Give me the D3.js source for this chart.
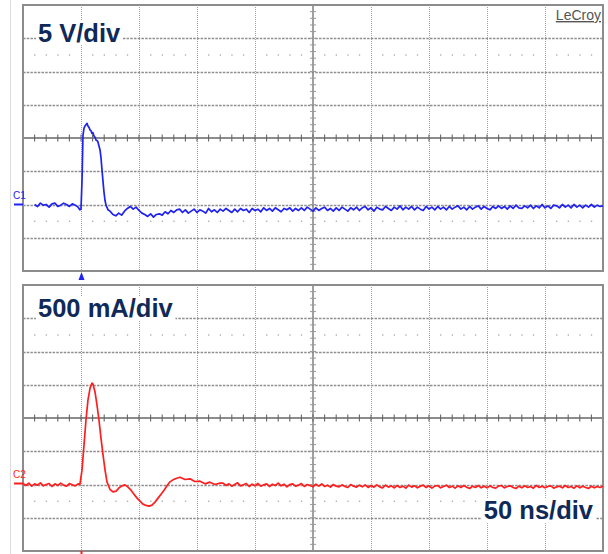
<!DOCTYPE html>
<html>
<head>
<meta charset="utf-8">
<script src="https://cdn.jsdelivr.net/npm/d3@7"></script>
<style>
  html, body { margin: 0; padding: 0; background: #fff; }
  svg { display: block; }
</style>
</head>
<body>
<div id="scope"></div>
<script>
// time axis: 50 ns/div, 10 divisions, trigger one division in
var timeDomain = [-50, 450];
var timeDiv = 50;
var voltDomain = [-20, 20];   // 5 V/div, 8 divisions
var voltDiv = 5;
var ampDomain = [-2000, 2000]; // 500 mA/div
var ampDiv = 500;

var labels = ["5 V/div", "500 mA/div", "50 ns/div"];
var sampleNs = 2.5;

// C1 (voltage), V
var c1Pre = { t0: -40, v: [-10.0, -10.3, -9.8, -10.1, -10.0, -10.4, -9.9, -9.8, -10.3, -10.1, -9.8, -10.0, -10.3, -9.9, -10.1, -10.4] };
var c1Pulse = [
  [-1, -10.8], [0, -10.7], [0.9, -6.3], [1.7, 0.4], [2.6, 1.5], [3.4, 1.8], [4.3, 2.0], [5.2, 2.2],
  [6, 1.8], [6.9, 1.6], [7.8, 1.2], [8.6, 1.1], [9.5, 0.7], [10.3, 0.8], [11.2, 0.3], [12.1, 0.1],
  [12.9, -0.3], [14, -0.4], [14.6, -0.6], [15.5, -1.2], [16.4, -1.8], [17.2, -2.9], [18.1, -4.8],
  [19, -6.6], [19.8, -8.1], [20.7, -9.4], [21.6, -10.1], [23.3, -10.8], [25, -11.0], [27.5, -11.5],
  [30, -11.7], [32.5, -11.3], [35, -11.6], [37.5, -11.0], [40, -10.6], [42.5, -10.3], [45, -10.7],
  [47.5, -10.4], [50, -10.9], [52.5, -11.3], [55, -11.5], [57.5, -11.8], [60, -11.4], [62.5, -11.9],
  [65, -11.5], [67.5, -11.4], [70, -11.6], [72.5, -11.1], [75, -11.4], [77.5, -10.9], [80, -11.2], [82.5, -10.8]
];
var c1Tail = { t0: 85, v: [
  -10.7, -11.2, -10.8, -11.3, -11.0, -10.7, -11.2, -10.8, -11.0, -11.3,
  -10.6, -11.1, -10.8, -11.2, -10.7, -11.0, -10.6, -10.9, -11.2, -10.7,
  -11.1, -10.6, -10.9, -10.7, -11.2, -10.6, -10.9, -10.7, -11.1, -10.5,
  -10.9, -10.6, -11.0, -10.5, -10.8, -11.1, -10.6, -10.8, -10.5, -11.0,
  -10.6, -10.9, -10.5, -10.9, -10.4, -10.7, -11.0, -10.5, -10.9, -10.6,
  -10.4, -10.9, -10.6, -11.0, -10.5, -10.9, -10.4, -10.7, -11.0, -10.5,
  -10.8, -10.4, -10.9, -10.5, -10.3, -10.8, -10.5, -11.0, -10.4, -10.7,
  -10.8, -10.3, -10.6, -10.9, -10.4, -10.7, -10.2, -10.8, -10.4, -10.7,
  -10.3, -10.8, -10.4, -10.7, -10.9, -10.3, -10.7, -10.4, -10.8, -10.3,
  -10.7, -10.4, -10.8, -10.3, -10.7, -10.4, -10.2, -10.7, -10.4, -10.8,
  -10.3, -10.7, -10.4, -10.2, -10.7, -10.3, -10.6, -10.8, -10.3, -10.6,
  -10.2, -10.6, -10.3, -10.7, -10.2, -10.6, -10.1, -10.5, -10.6, -10.2,
  -10.5, -10.1, -10.6, -10.2, -10.5, -10.0, -10.5, -10.2, -10.6, -10.1,
  -10.2, -10.5, -10.0, -10.4, -10.1, -10.5, -10.0, -10.4, -10.1, -10.5,
  -10.1, -10.4, -10.0, -10.4, -10.1, -10.3, -10.2
] };

// C2 (current), mA
var c2Pre = { t0: -50, v: [-985, -1015, -980, -1025, -990, -1010, -975, -1020, -1000, -985, -1030, -990, -1015, -980, -1010, -1025, -985, -1005, -1020, -990] };
var c2Pulse = [
  [-0.9, -995], [0.9, -780], [2.6, -405], [4.3, -30], [6, 270], [7.8, 450], [9.5, 525], [10.3, 510],
  [12.1, 390], [13.8, 195], [15.5, -30], [17.2, -300], [19, -555], [20.7, -780], [22.4, -960],
  [25, -1075], [27.6, -1110], [30.2, -1100], [32.8, -1050], [35.3, -1020], [37.9, -1005], [40.5, -1040],
  [43.1, -1085], [45.7, -1145], [48.3, -1205], [50.9, -1250], [53.4, -1295], [56, -1315], [58.6, -1325],
  [61.2, -1310], [63.8, -1265], [66.4, -1205], [69, -1145], [71.6, -1085], [74.1, -1020], [76.7, -960],
  [79.3, -930], [81.9, -910], [85.3, -890], [89.7, -925], [94, -915], [98, -955], [102.6, -950],
  [107, -990], [111, -965], [115.5, -1000], [119.8, -980]
];
var c2Tail = { t0: 122.5, v: [
  -980, -1015, -990, -1025, -1000, -975, -1020, -1005, -985, -1030,
  -995, -1020, -985, -1025, -1005, -990, -1030, -995, -1015, -980,
  -1020, -995, -1035, -1000, -990, -1025, -1010, -985, -1030, -1000,
  -1015, -1035, -995, -1025, -990, -1030, -1010, -1040, -1000, -1025,
  -1035, -1005, -1030, -1045, -1000, -1025, -1040, -1010, -1035, -1005,
  -1045, -1015, -1040, -1005, -1035, -1050, -1010, -1040, -1020, -1050,
  -1015, -1045, -1025, -1055, -1010, -1040, -1020, -1050, -1025, -1010,
  -1045, -1020, -1055, -1025, -1015, -1050, -1030, -1010, -1045, -1025,
  -1055, -1020, -1045, -1015, -1040, -1060, -1025, -1045, -1015, -1050,
  -1025, -1050, -1020, -1045, -1055, -1025, -1015, -1050, -1030, -1020,
  -1045, -1060, -1025, -1050, -1020, -1045, -1030, -1055, -1015, -1045,
  -1025, -1050, -1030, -1020, -1055, -1035, -1025, -1050, -1015, -1045,
  -1030, -1055, -1020, -1050, -1025, -1045, -1060, -1025, -1050, -1030,
  -1045, -1025
] };

function samples(seg) {
  return seg.v.map(function(v, i) { return [seg.t0 + i * sampleNs, v]; });
}

var c1Data = samples(c1Pre).concat(c1Pulse, samples(c1Tail));
var c2Data = samples(c2Pre).concat(c2Pulse, samples(c2Tail));

var width = 608, height = 554;
var left = 23, right = 603;
var navy = "#0f2a58";
var gridColor = "#8e8e8e";

var svg = d3.select("#scope")
  .append("svg")
    .attr("width", width)
    .attr("height", height)
    .style("font-family", "'Liberation Sans', Arial, sans-serif");

svg.append("rect").attr("width", width).attr("height", height).attr("fill", "#fff");
svg.append("line")
  .attr("x1", 10.5).attr("x2", 10.5).attr("y1", 0).attr("y2", height)
  .attr("stroke", "#dcdcdc").attr("stroke-width", 1);

var x = d3.scaleLinear().domain(timeDomain).range([left, right]);

function drawPanel(top, bottom, domain, step, data, color, name) {
  var y = d3.scaleLinear().domain(domain).range([bottom, top]);
  var g = svg.append("g").attr("class", "panel-" + name);
  var mid = (domain[0] + domain[1]) / 2;
  var tCenter = (timeDomain[0] + timeDomain[1]) / 2;

  // vertical division lines
  g.append("g").selectAll("line")
    .data(d3.range(timeDomain[0] + timeDiv, timeDomain[1], timeDiv).filter(function(t) { return t != tCenter }))
    .enter().append("line")
      .attr("x1", function(d) { return Math.round(x(d)) + 0.5 })
      .attr("x2", function(d) { return Math.round(x(d)) + 0.5 })
      .attr("y1", top).attr("y2", bottom)
      .attr("stroke", "#a0a0a0").attr("stroke-width", 1)
      .attr("stroke-dasharray", "1,1");

  // horizontal division lines
  g.append("g").selectAll("line")
    .data(d3.range(domain[0] + step, domain[1], step).filter(function(v) { return v != mid }))
    .enter().append("line")
      .attr("x1", left).attr("x2", right)
      .attr("y1", function(d) { return Math.round(y(d)) + 0.5 })
      .attr("y2", function(d) { return Math.round(y(d)) + 0.5 })
      .attr("stroke", gridColor).attr("stroke-width", 1.3)
      .attr("stroke-dasharray", "2.5,1.2");

  // sparse dot rows at 1.5 and 6.5 divisions
  var minorT = d3.range(timeDomain[0], timeDomain[1], timeDiv / 5)
    .filter(function(t, i) { return i % 5 != 0 });
  [domain[1] - 1.5 * step, domain[0] + 1.5 * step].forEach(function(v) {
    g.append("g").selectAll("rect")
      .data(minorT)
      .enter().append("rect")
        .attr("x", function(d) { return x(d) - 0.5 })
        .attr("y", y(v) - 0.5)
        .attr("width", 1.3).attr("height", 1.3)
        .attr("fill", "#a5a5a5");
  });

  // center axes with ticks
  g.append("line")
    .attr("x1", left).attr("x2", right)
    .attr("y1", y(mid)).attr("y2", y(mid))
    .attr("stroke", "#666").attr("stroke-width", 1.6);
  g.append("line")
    .attr("x1", x(tCenter)).attr("x2", x(tCenter))
    .attr("y1", top).attr("y2", bottom)
    .attr("stroke", "#888").attr("stroke-width", 1.6);

  g.append("g").selectAll("line")
    .data(d3.range(timeDomain[0], timeDomain[1], timeDiv / 5))
    .enter().append("line")
      .attr("x1", function(d) { return x(d) }).attr("x2", function(d) { return x(d) })
      .attr("y1", y(mid) - 3.5).attr("y2", y(mid) + 3.5)
      .attr("stroke", "#666").attr("stroke-width", 1.1);
  g.append("g").selectAll("line")
    .data(d3.range(domain[0], domain[1], step / 5))
    .enter().append("line")
      .attr("x1", x(tCenter) - 3).attr("x2", x(tCenter) + 3)
      .attr("y1", function(d) { return y(d) }).attr("y2", function(d) { return y(d) })
      .attr("stroke", "#999").attr("stroke-width", 1);

  // frame
  g.append("rect")
    .attr("x", left).attr("y", top)
    .attr("width", right - left).attr("height", bottom - top)
    .attr("fill", "none").attr("stroke", "#8c8c8c").attr("stroke-width", 2);

  // trace
  g.append("path")
    .datum(data)
    .attr("fill", "none")
    .attr("stroke", color)
    .attr("stroke-width", 1.7)
    .attr("stroke-linejoin", "round")
    .attr("d", d3.line()
      .x(function(d) { return x(d[0]) })
      .y(function(d) { return y(d[1]) }));

  // channel marker on the left
  var baseY = y(data[0][1]);
  g.append("line")
    .attr("x1", 14).attr("x2", left)
    .attr("y1", baseY).attr("y2", baseY)
    .attr("stroke", color).attr("stroke-width", 2);
  g.append("text")
    .attr("x", 13).attr("y", baseY - 6)
    .attr("font-size", 10)
    .attr("fill", color)
    .text(name);

  return y;
}

drawPanel(5, 271, voltDomain, voltDiv, c1Data, "#1f22f0", "C1");
drawPanel(285, 551, ampDomain, ampDiv, c2Data, "#ff1e1e", "C2");

// trigger markers
svg.append("path")
  .attr("d", "M" + (x(0) + 0.5) + ",272 L" + (x(0) + 3.5) + ",280 L" + (x(0) - 2.5) + ",280 Z")
  .attr("fill", "#1f22f0");
svg.append("line")
  .attr("x1", x(0) + 0.5).attr("x2", x(0) + 0.5)
  .attr("y1", 551).attr("y2", 554)
  .attr("stroke", "#ff1e1e").attr("stroke-width", 2);

// LeCroy badge
svg.append("text")
  .attr("x", 601).attr("y", 20)
  .attr("text-anchor", "end")
  .attr("font-size", 14)
  .attr("fill", "#555")
  .attr("text-decoration", "underline")
  .text("LeCroy");

// scale annotations with white boxes
function annotate(txt, px, py, anchor) {
  var g = svg.append("g");
  var bg = g.append("rect").attr("fill", "#fff");
  var t = g.append("text")
    .attr("x", px).attr("y", py)
    .attr("text-anchor", anchor)
    .attr("font-size", 25.5)
    .attr("font-weight", "bold")
    .attr("fill", navy)
    .text(txt);
  var b = t.node().getBBox();
  bg.attr("x", b.x - 2).attr("y", b.y + 2)
    .attr("width", b.width + 4).attr("height", b.height - 4);
}

annotate(labels[0], 38, 42, "start");
annotate(labels[1], 38, 317, "start");
annotate(labels[2], 593, 519, "end");
</script>
</body>
</html>
